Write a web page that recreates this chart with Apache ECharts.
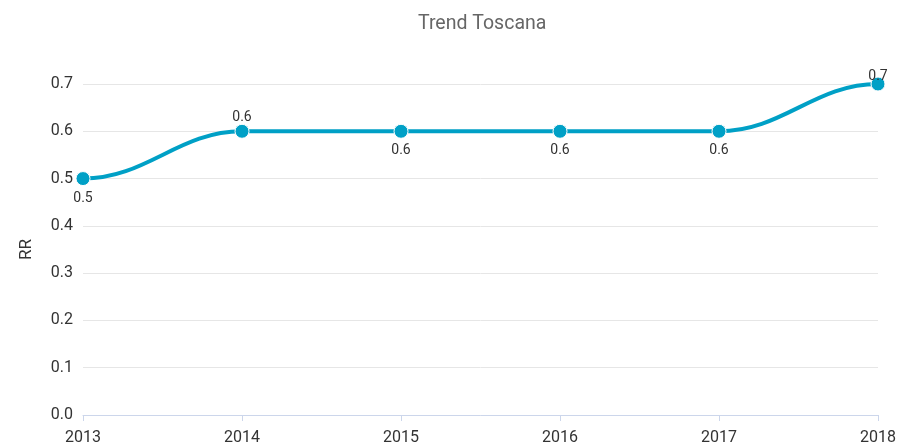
<!DOCTYPE html>
<html>
<head>
<meta charset="utf-8">
<script src="https://cdn.jsdelivr.net/npm/echarts@6/dist/echarts.min.js"></script>
<style>
  html, body { margin: 0; padding: 0; background: #fff; }
  #chart { width: 901px; height: 446px; }
</style>
</head>
<body>
<div id="chart"></div>
<script>
var years = ['2013', '2014', '2015', '2016', '2017', '2018'];
var rrValues = [0.5, 0.6, 0.6, 0.6, 0.6, 0.7];
// posizione delle etichette come nell'originale
var labelPos = ['bottom', 'top', 'bottom', 'bottom', 'bottom', 'top'];

var LINE_COLOR = '#00a0c6';
var chart = echarts.init(document.getElementById('chart'));

// pendenza della tangente (in pixel) per la spline, piatta agli estremi e nei massimi/minimi
function slopeAt(api, i) {
    if (i === 0 || i === rrValues.length - 1) return 0;
    var a = api.coord([i - 1, rrValues[i - 1]]);
    var b = api.coord([i, rrValues[i]]);
    var c = api.coord([i + 1, rrValues[i + 1]]);
    if ((a[1] - b[1]) * (c[1] - b[1]) >= 0) return 0;
    return (c[1] - a[1]) / (c[0] - a[0]);
}

function renderSpline(params, api) {
    var i = params.dataIndex;
    if (i >= rrValues.length - 1) return null;
    var p0 = api.coord([i, rrValues[i]]);
    var p1 = api.coord([i + 1, rrValues[i + 1]]);
    var k = (p1[0] - p0[0]) * 0.4;
    var m0 = slopeAt(api, i);
    var m1 = slopeAt(api, i + 1);
    return {
        type: 'bezierCurve',
        shape: {
            x1: p0[0], y1: p0[1],
            cpx1: p0[0] + k, cpy1: p0[1] + m0 * k,
            cpx2: p1[0] - k, cpy2: p1[1] - m1 * k,
            x2: p1[0], y2: p1[1]
        },
        style: { stroke: LINE_COLOR, lineWidth: 4, fill: null, lineCap: 'round' }
    };
}

var seriesData = rrValues.map(function (v, i) {
    var top = labelPos[i] === 'top';
    return {
        value: v,
        label: {
            position: labelPos[i],
            distance: top ? (i === 5 ? -7 : -1) : 5
        }
    };
});

var option = {
    backgroundColor: '#fff',
    textStyle: { fontFamily: 'Roboto' },
    title: {
        text: 'Trend Toscana',
        left: 413,
        top: 9,
        textStyle: {
            color: '#666',
            fontSize: 19.5,
            fontWeight: 'normal',
            fontFamily: 'Roboto'
        }
    },
    grid: {
        left: 83,
        right: 23,
        top: 84,
        bottom: 31
    },
    xAxis: {
        type: 'category',
        boundaryGap: false,
        data: years,
        axisLine: { lineStyle: { color: '#ccd6eb', width: 1 } },
        axisTick: { show: true, alignWithLabel: true, length: 6, lineStyle: { color: '#ccd6eb' } },
        axisLabel: { color: '#333', fontSize: 16, margin: 15 },
        splitLine: { show: false }
    },
    yAxis: {
        type: 'value',
        min: 0,
        max: 0.7,
        interval: 0.1,
        name: 'RR',
        nameLocation: 'middle',
        nameGap: 48,
        nameTextStyle: { color: '#333', fontSize: 17 },
        axisLine: { show: false },
        axisTick: { show: false },
        axisLabel: {
            color: '#333',
            fontSize: 16,
            margin: 10,
            formatter: function (v) { return v.toFixed(1); }
        },
        splitLine: { lineStyle: { color: '#e6e6e6', width: 1 } }
    },
    series: [
        {
            // linea spline
            type: 'custom',
            renderItem: renderSpline,
            data: rrValues.map(function (v, i) { return [i, v]; }),
            silent: true,
            z: 2
        },
        {
            name: 'RR',
            type: 'line',
            symbol: 'circle',
            symbolSize: 14,
            data: seriesData,
            z: 3,
            lineStyle: { opacity: 0 },
            itemStyle: { color: LINE_COLOR, borderColor: '#fff', borderWidth: 1 },
            label: {
                show: true,
                color: '#333',
                fontSize: 14,
                formatter: function (p) { return p.value.toFixed(1); }
            }
        }
    ]
};

chart.setOption(option);
</script>
</body>
</html>
